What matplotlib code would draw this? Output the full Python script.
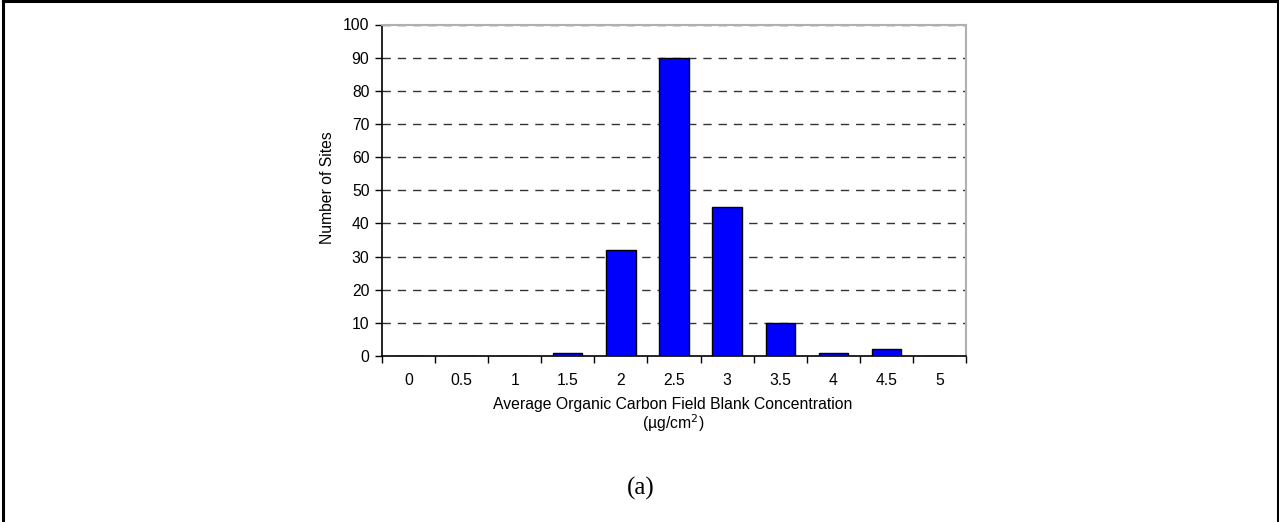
import matplotlib
matplotlib.use("Agg")
import matplotlib.pyplot as plt
import numpy as np

# Histogram of average organic carbon field blank concentration
categories = ["0", "0.5", "1", "1.5", "2", "2.5", "3", "3.5", "4", "4.5", "5"]
site_counts = [0, 0, 0, 1, 32, 90, 45, 10, 1, 2, 0]
y_ticks = list(range(0, 101, 10))

plt.rcParams["font.family"] = ["Liberation Sans", "DejaVu Sans"]
FS = 11.3

W, H = 1279, 522
fig = plt.figure(figsize=(W / 100, H / 100), dpi=100)

# Frame around the whole panel (open at the bottom)
fig.add_artist(plt.Line2D([3 / W, 3 / W], [0, 1 - 1 / H], color="black", lw=2.2))
fig.add_artist(plt.Line2D([1277.5 / W, 1277.5 / W], [0, 1 - 1 / H], color="black", lw=2.2))
fig.add_artist(plt.Line2D([3 / W, 1277.5 / W], [1 - 1 / H, 1 - 1 / H], color="black", lw=2.2))

left, right = 382 / W, 966 / W
top, bottom = 1 - 24.5 / H, 1 - 356 / H
ax = fig.add_axes([left, bottom, right - left, top - bottom])

x = np.arange(len(categories))
ax.bar(x, site_counts, width=0.55, color="#0000ff", edgecolor="black", linewidth=1.0, zorder=3)

ax.set_xlim(-0.5, len(categories) - 0.5)
ax.set_ylim(0, 100)
ax.set_yticks(y_ticks)
ax.set_yticklabels([str(v) for v in y_ticks], fontsize=FS)

# Category labels centred, tick marks on the category boundaries
ax.set_xticks(x)
ax.set_xticklabels(categories, fontsize=FS)
ax.tick_params(axis="x", which="major", length=0, pad=12)
ax.set_xticks(np.arange(-0.5, len(categories), 1.0), minor=True)
ax.tick_params(axis="x", which="minor", length=5, width=1, direction="out", color="black")
ax.tick_params(axis="y", length=5, width=1, direction="out", pad=4)

for v in y_ticks[1:]:
    ax.axhline(v, color="#333333", lw=1.0, ls=(0, (6, 5)), zorder=2)

ax.spines["left"].set_color("black")
ax.spines["bottom"].set_color("black")
ax.spines["left"].set_linewidth(1.2)
ax.spines["bottom"].set_linewidth(1.2)
ax.spines["right"].set_color("#b0b0b0")
ax.spines["top"].set_color("#b0b0b0")
ax.spines["right"].set_linewidth(1.5)
ax.spines["top"].set_linewidth(1.5)

# Axis titles
fig.text(328 / W, 1 - 188 / H, "Number of Sites", rotation=90,
         ha="center", va="center", fontsize=FS)
fig.text(673 / W, 1 - 404 / H, "Average Organic Carbon Field Blank Concentration",
         ha="center", va="center", fontsize=FS)
fig.text(673 / W, 1 - 423 / H, "(\u00b5g/cm$^2$)",
         ha="center", va="center", fontsize=FS)

fig.text(641 / W, 1 - 488 / H, "(a)", ha="center", va="center",
         fontsize=18, family=["Liberation Serif", "DejaVu Serif"])

fig.savefig("out.png", dpi=100)
